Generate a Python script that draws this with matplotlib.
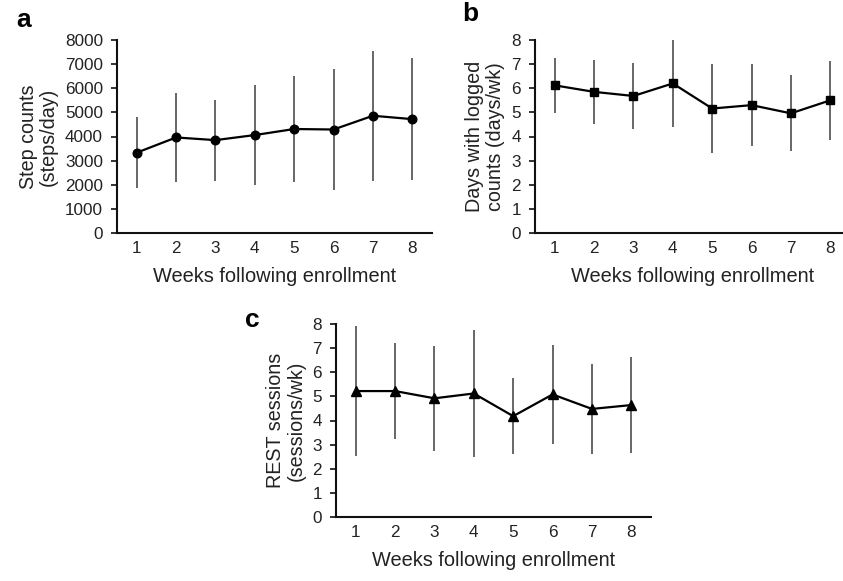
import matplotlib

matplotlib.use("Agg")
import matplotlib.pyplot as plt
import numpy as np

plt.rcParams["font.family"] = ["Liberation Sans", "DejaVu Sans"]

W, H = 843, 581
TEXT = "#222222"
ERR = "#5a5a5a"

weeks = [1, 2, 3, 4, 5, 6, 7, 8]

# a: step counts (steps/day), mean and SD
steps_mean = [3330, 3960, 3850, 4060, 4310, 4290, 4860, 4720]
steps_sd = [1470, 1830, 1675, 2065, 2185, 2520, 2690, 2520]

# b: days with logged counts (days/wk)
days_mean = [6.12, 5.85, 5.68, 6.20, 5.16, 5.30, 4.96, 5.50]
days_sd = [1.14, 1.32, 1.38, 1.79, 1.83, 1.69, 1.57, 1.63]

# c: REST sessions (sessions/wk)
rest_mean = [5.22, 5.22, 4.92, 5.12, 4.18, 5.08, 4.48, 4.64]
rest_sd = [2.69, 2.00, 2.17, 2.63, 1.57, 2.04, 1.85, 1.99]


def px_axes(fig, left, top, right, bottom):
    return fig.add_axes(
        [left / W, (H - bottom) / H, (right - left) / W, (bottom - top) / H]
    )


def panel(ax, means, sds, marker, ms, ylim, yticks, ylabel):
    ax.errorbar(
        weeks, means, yerr=sds, fmt="none", ecolor=ERR, elinewidth=1.3, capsize=0,
        zorder=1,
    )
    ax.plot(weeks, means, color="black", lw=1.6, marker=marker, ms=ms,
            mfc="black", mec="black", zorder=2)
    ax.set_xlim(0.5, 8.5)
    ax.set_ylim(*ylim)
    ax.set_yticks(yticks)
    ax.set_xticks(weeks)
    for side in ["top", "right"]:
        ax.spines[side].set_visible(False)
    for side in ["left", "bottom"]:
        ax.spines[side].set_linewidth(1.5)
        ax.spines[side].set_color("#111111")
    ax.tick_params(axis="x", length=0, pad=6, labelsize=12.3, labelcolor=TEXT)
    ax.tick_params(axis="y", length=4, width=1.2, pad=6, labelsize=12.3,
                   labelcolor=TEXT, color="#111111")
    ax.set_xlabel("Weeks following enrollment", fontsize=14.4, color=TEXT,
                  labelpad=8)
    ax.set_ylabel(ylabel, fontsize=14.2, color=TEXT, labelpad=5, linespacing=1.1)
    ax.patch.set_alpha(0)


fig = plt.figure(figsize=(W / 100, H / 100), dpi=100)

ax_a = px_axes(fig, 117, 40, 432, 233)
panel(ax_a, steps_mean, steps_sd, "o", 6.2, (0, 8000), range(0, 8001, 1000),
      "Step counts\n(steps/day)")

ax_b = px_axes(fig, 535, 40, 850, 233)
panel(ax_b, days_mean, days_sd, "s", 5.5, (0, 8), range(0, 9),
      "Days with logged\ncounts (days/wk)")

ax_c = px_axes(fig, 336, 324, 651, 517)
panel(ax_c, rest_mean, rest_sd, "^", 6.5, (0, 8), range(0, 9),
      "REST sessions\n(sessions/wk)")

for label, x, y in [("a", 24, 20), ("b", 470, 14), ("c", 252, 320)]:
    fig.text(x / W, 1 - y / H, label, fontsize=19, fontweight="bold",
             ha="center", va="center", color="black")

fig.savefig("out.png", dpi=100)
